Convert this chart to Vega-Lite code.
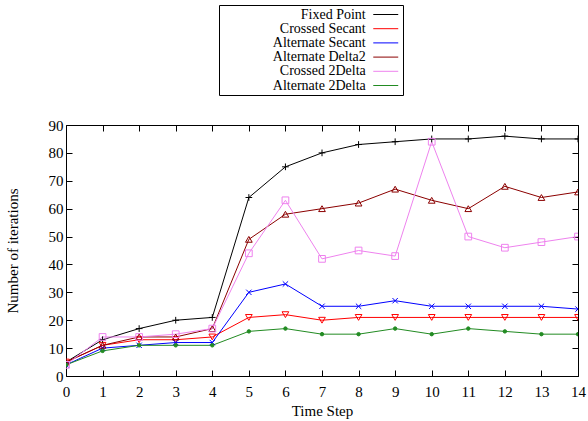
{
  "$schema": "https://vega.github.io/schema/vega-lite/v6.json",
  "width": 512,
  "height": 251,
  "autosize": {"type": "none"},
  "padding": {"left": 66, "top": 125, "right": 10, "bottom": 45},
  "background": "white",
  "config": {
    "font": "Liberation Serif",
    "view": {"stroke": "black", "strokeWidth": 1},
    "axis": {"labelFont": "Liberation Serif", "titleFont": "Liberation Serif", "labelFontSize": 15, "titleFontSize": 15, "titleFontWeight": "normal", "labelColor": "black", "titleColor": "black", "domainColor": "black", "tickColor": "black", "grid": false, "tickSize": -6}
  },
  "data": {"values": [
    {"series":"Fixed Point","t":0,"v":5},{"series":"Fixed Point","t":1,"v":13},{"series":"Fixed Point","t":2,"v":17},{"series":"Fixed Point","t":3,"v":20},{"series":"Fixed Point","t":4,"v":21},{"series":"Fixed Point","t":5,"v":64},{"series":"Fixed Point","t":6,"v":75},{"series":"Fixed Point","t":7,"v":80},{"series":"Fixed Point","t":8,"v":83},{"series":"Fixed Point","t":9,"v":84},{"series":"Fixed Point","t":10,"v":85},{"series":"Fixed Point","t":11,"v":85},{"series":"Fixed Point","t":12,"v":86},{"series":"Fixed Point","t":13,"v":85},{"series":"Fixed Point","t":14,"v":85},
    {"series":"Crossed Secant","t":0,"v":5},{"series":"Crossed Secant","t":1,"v":11},{"series":"Crossed Secant","t":2,"v":13},{"series":"Crossed Secant","t":3,"v":13},{"series":"Crossed Secant","t":4,"v":14},{"series":"Crossed Secant","t":5,"v":21},{"series":"Crossed Secant","t":6,"v":22},{"series":"Crossed Secant","t":7,"v":20},{"series":"Crossed Secant","t":8,"v":21},{"series":"Crossed Secant","t":9,"v":21},{"series":"Crossed Secant","t":10,"v":21},{"series":"Crossed Secant","t":11,"v":21},{"series":"Crossed Secant","t":12,"v":21},{"series":"Crossed Secant","t":13,"v":21},{"series":"Crossed Secant","t":14,"v":21},
    {"series":"Alternate Secant","t":0,"v":4},{"series":"Alternate Secant","t":1,"v":10},{"series":"Alternate Secant","t":2,"v":11},{"series":"Alternate Secant","t":3,"v":12},{"series":"Alternate Secant","t":4,"v":12},{"series":"Alternate Secant","t":5,"v":30},{"series":"Alternate Secant","t":6,"v":33},{"series":"Alternate Secant","t":7,"v":25},{"series":"Alternate Secant","t":8,"v":25},{"series":"Alternate Secant","t":9,"v":27},{"series":"Alternate Secant","t":10,"v":25},{"series":"Alternate Secant","t":11,"v":25},{"series":"Alternate Secant","t":12,"v":25},{"series":"Alternate Secant","t":13,"v":25},{"series":"Alternate Secant","t":14,"v":24},
    {"series":"Alternate Delta2","t":0,"v":5},{"series":"Alternate Delta2","t":1,"v":11},{"series":"Alternate Delta2","t":2,"v":14},{"series":"Alternate Delta2","t":3,"v":14},{"series":"Alternate Delta2","t":4,"v":17},{"series":"Alternate Delta2","t":5,"v":49},{"series":"Alternate Delta2","t":6,"v":58},{"series":"Alternate Delta2","t":7,"v":60},{"series":"Alternate Delta2","t":8,"v":62},{"series":"Alternate Delta2","t":9,"v":67},{"series":"Alternate Delta2","t":10,"v":63},{"series":"Alternate Delta2","t":11,"v":60},{"series":"Alternate Delta2","t":12,"v":68},{"series":"Alternate Delta2","t":13,"v":64},{"series":"Alternate Delta2","t":14,"v":66},
    {"series":"Crossed 2Delta","t":0,"v":4},{"series":"Crossed 2Delta","t":1,"v":14},{"series":"Crossed 2Delta","t":2,"v":14},{"series":"Crossed 2Delta","t":3,"v":15},{"series":"Crossed 2Delta","t":4,"v":17},{"series":"Crossed 2Delta","t":5,"v":44},{"series":"Crossed 2Delta","t":6,"v":63},{"series":"Crossed 2Delta","t":7,"v":42},{"series":"Crossed 2Delta","t":8,"v":45},{"series":"Crossed 2Delta","t":9,"v":43},{"series":"Crossed 2Delta","t":10,"v":84},{"series":"Crossed 2Delta","t":11,"v":50},{"series":"Crossed 2Delta","t":12,"v":46},{"series":"Crossed 2Delta","t":13,"v":48},{"series":"Crossed 2Delta","t":14,"v":50},
    {"series":"Alternate 2Delta","t":0,"v":4},{"series":"Alternate 2Delta","t":1,"v":9},{"series":"Alternate 2Delta","t":2,"v":11},{"series":"Alternate 2Delta","t":3,"v":11},{"series":"Alternate 2Delta","t":4,"v":11},{"series":"Alternate 2Delta","t":5,"v":16},{"series":"Alternate 2Delta","t":6,"v":17},{"series":"Alternate 2Delta","t":7,"v":15},{"series":"Alternate 2Delta","t":8,"v":15},{"series":"Alternate 2Delta","t":9,"v":17},{"series":"Alternate 2Delta","t":10,"v":15},{"series":"Alternate 2Delta","t":11,"v":17},{"series":"Alternate 2Delta","t":12,"v":16},{"series":"Alternate 2Delta","t":13,"v":15},{"series":"Alternate 2Delta","t":14,"v":15}
  ]},
  "resolve": {"axis": {"x": "independent", "y": "independent"}},
  "layer": [
    {
      "mark": {"type": "line", "strokeWidth": 1, "clip": true},
      "encoding": {
        "x": {"field": "t", "type": "quantitative", "scale": {"domain": [0, 14], "nice": false, "zero": false},
              "axis": {"orient": "bottom", "title": "Time Step", "values": [0,1,2,3,4,5,6,7,8,9,10,11,12,13,14], "format": "d", "labelPadding": 14, "titlePadding": 4, "domain": false, "labelFlush": false}},
        "y": {"field": "v", "type": "quantitative", "scale": {"domain": [0, 90], "nice": false},
              "axis": {"orient": "left", "title": "Number of iterations", "values": [0,10,20,30,40,50,60,70,80,90], "labelPadding": 9, "titlePadding": 28, "domain": false}},
        "color": {"field": "series", "type": "nominal",
                  "scale": {"domain": ["Fixed Point","Crossed Secant","Alternate Secant","Alternate Delta2","Crossed 2Delta","Alternate 2Delta"],
                            "range": ["#000000","#ff0000","#0000ff","#8b0000","#ee82ee","#228b22"]},
                  "legend": {"title": " ", "titleOrient": "left", "titleFontSize": 1, "titlePadding": 41,
                             "orient": "none", "legendX": 153, "legendY": -120,
                             "symbolType": "M-2.08,0L2.08,0", "symbolSize": 144, "symbolStrokeWidth": 1, "symbolOffset": 116.25,
                             "rowPadding": 0.2,
                             "labelFont": "Liberation Serif", "labelFontSize": 14, "labelColor": "black", "labelAlign": "right", "labelOffset": -27, "labelLimit": 300,
                             "strokeColor": "black", "padding": 2.5}}
      }
    },
    {
      "mark": {"type": "point", "filled": false, "strokeWidth": 1, "size": 45, "opacity": 1, "clip": true},
      "encoding": {
        "x": {"field": "t", "type": "quantitative", "axis": {"orient": "top", "labels": false, "title": null, "values": [0,1,2,3,4,5,6,7,8,9,10,11,12,13,14], "domain": false}},
        "y": {"field": "v", "type": "quantitative", "axis": {"orient": "right", "labels": false, "title": null, "values": [0,10,20,30,40,50,60,70,80,90], "domain": false}},
        "stroke": {"field": "series", "type": "nominal", "legend": null,
                   "scale": {"domain": ["Fixed Point","Crossed Secant","Alternate Secant","Alternate Delta2","Crossed 2Delta","Alternate 2Delta"],
                             "range": ["#000000","#ff0000","#0000ff","#8b0000","#ee82ee","#228b22"]}},
        "shape": {"condition": [
                    {"test": "datum.series === 'Fixed Point'", "value": "M-1,0L1,0M0,-1L0,1"},
                    {"test": "datum.series === 'Crossed Secant'", "value": "triangle-down"},
                    {"test": "datum.series === 'Alternate Secant'", "value": "M-0.8,-0.8L0.8,0.8M-0.8,0.8L0.8,-0.8"},
                    {"test": "datum.series === 'Alternate Delta2'", "value": "triangle-up"},
                    {"test": "datum.series === 'Crossed 2Delta'", "value": "square"}
                  ], "value": "circle"},
        "fill": {"condition": {"test": "datum.series === 'Alternate 2Delta'", "value": "#228b22"}, "value": "transparent"},
        "size": {"condition": {"test": "datum.series === 'Alternate 2Delta'", "value": 12}, "value": 45}
      }
    }
  ]
}
